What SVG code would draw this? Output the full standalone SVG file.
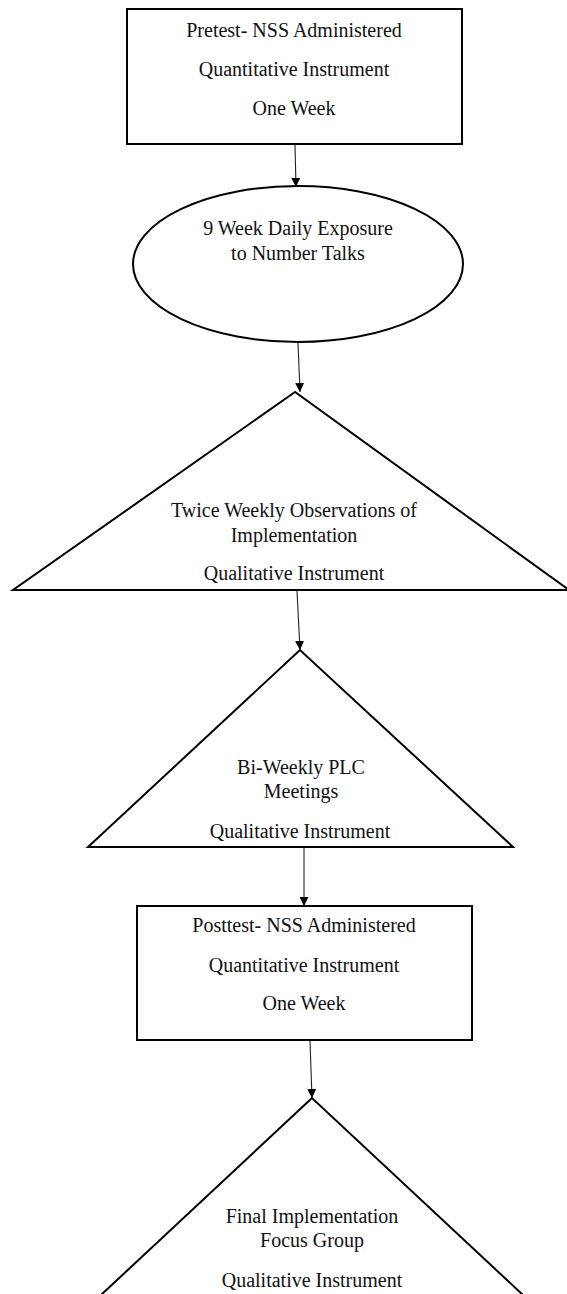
<svg xmlns="http://www.w3.org/2000/svg" width="567" height="1294" viewBox="0 0 567 1294">
<style>
.shape{fill:#fff;stroke:#000;stroke-width:2}
.lbl{font-family:"Liberation Serif","Times New Roman",serif;font-size:20px;fill:#111;text-anchor:middle}
.conn{stroke:#222;stroke-width:1.1;fill:none;marker-end:url(#ah)}
</style>
<defs>
<marker id="ah" viewBox="0 0 10 10" refX="10" refY="5" markerWidth="9" markerHeight="9" markerUnits="userSpaceOnUse" orient="auto">
<path d="M0,0 L10,5 L0,10 Z" fill="#000"/>
</marker>
</defs>
<rect width="567" height="1294" fill="#fff"/>
<g id="n1">
<rect class="shape" x="127" y="9" width="335" height="135"/>
<text class="lbl" x="294" y="37">Pretest- NSS Administered</text>
<text class="lbl" x="294" y="76">Quantitative Instrument</text>
<text class="lbl" x="294" y="115">One Week</text>
</g>
<g id="n2">
<ellipse class="shape" cx="298" cy="264" rx="165" ry="78"/>
<text class="lbl" x="298" y="235">9 Week Daily Exposure</text>
<text class="lbl" x="298" y="260">to Number Talks</text>
</g>
<g id="n3">
<polygon class="shape" points="295,392 13,590 569,590"/>
<text class="lbl" x="294" y="517">Twice Weekly Observations of</text>
<text class="lbl" x="294" y="542">Implementation</text>
<text class="lbl" x="294" y="580">Qualitative Instrument</text>
</g>
<g id="n4">
<polygon class="shape" points="300,650 88,847 513,847"/>
<text class="lbl" x="301" y="774">Bi-Weekly PLC</text>
<text class="lbl" x="301" y="798">Meetings</text>
<text class="lbl" x="300" y="838">Qualitative Instrument</text>
</g>
<g id="n5">
<rect class="shape" x="137" y="906" width="335" height="134"/>
<text class="lbl" x="304" y="932">Posttest- NSS Administered</text>
<text class="lbl" x="304" y="972">Quantitative Instrument</text>
<text class="lbl" x="304" y="1010">One Week</text>
</g>
<g id="n6">
<polygon class="shape" points="312,1098 101,1295 523,1295"/>
<text class="lbl" x="312" y="1223">Final Implementation</text>
<text class="lbl" x="312" y="1247">Focus Group</text>
<text class="lbl" x="312" y="1287">Qualitative Instrument</text>
</g>
<g id="connectors">
<line class="conn" x1="295" y1="145" x2="296" y2="187"/>
<line class="conn" x1="298" y1="343" x2="300" y2="392"/>
<line class="conn" x1="297" y1="591" x2="300" y2="650"/>
<line class="conn" x1="304" y1="848" x2="304" y2="906"/>
<line class="conn" x1="310" y1="1041" x2="312" y2="1098"/>
</g>
</svg>
